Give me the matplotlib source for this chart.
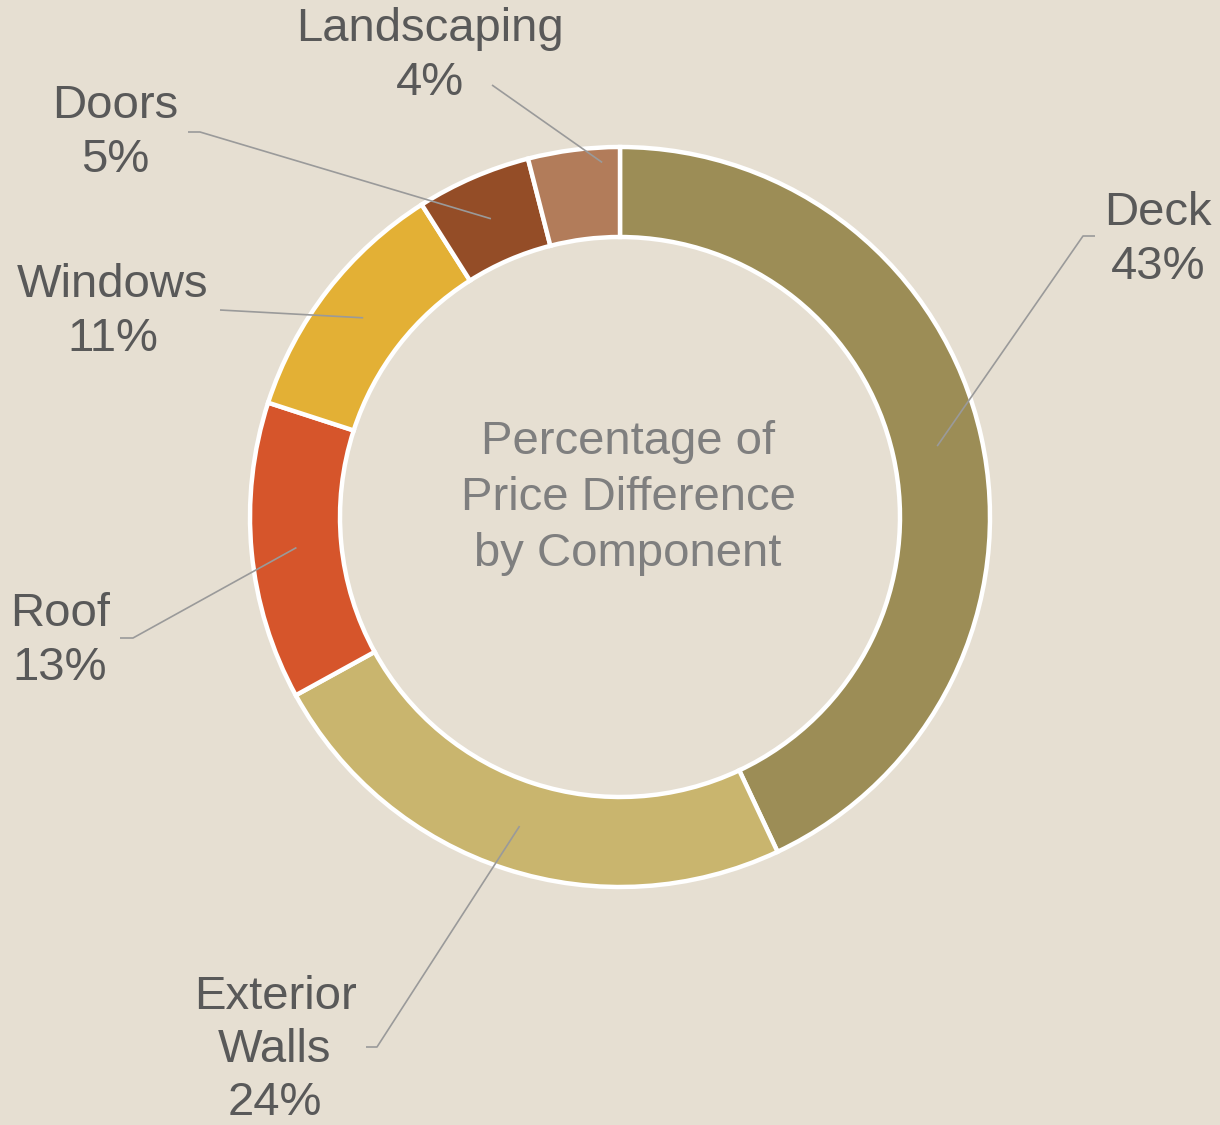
import numpy as np
import matplotlib
matplotlib.use("Agg")
import matplotlib.pyplot as plt

# Component shares of the price difference (percent), clockwise from 12 o'clock
components = ["Deck", "Exterior\nWalls", "Roof", "Windows", "Doors", "Landscaping"]
shares = [43, 24, 13, 11, 5, 4]
colors = ["#9c8d56", "#c9b56e", "#d6552b", "#e3b035", "#944d27", "#b27c5a"]
center_title = "Percentage of\nPrice Difference\nby Component"

# Layout in pixel units (y grows downward)
W, H = 1220, 1125
CX, CY = 620, 517
R_OUT, RING = 370, 90

# label text centre, elbow point, short horizontal end, anchor (fraction along wedge, radius)
label_pos = [(1158, 240), (275, 1050), (60, 641), (113, 312), (115, 133), (430, 56)]
elbows = [(1083, 236), (377, 1047), (133, 638), (220, 310), (200, 132), (492, 85)]
tails = [(1095, 236), (366, 1047), (120, 638), (220, 310), (188, 132), (492, 85)]
anchors = [(0.5, 325), (0.5, 325), (0.5, 325), (0.5, 325), (0.5, 325), (0.8, 355)]

BG = "#e6dfd2"
TXT = "#595959"
LINE = "#9a9a9a"

fig = plt.figure(figsize=(W / 100, H / 100), dpi=100, facecolor=BG)
ax = fig.add_axes([0, 0, 1, 1])
ax.set_facecolor(BG)

# y axis is inverted, so counterclockwise data angles read clockwise on screen
ax.pie(shares, colors=colors, startangle=-90, counterclock=True,
       radius=R_OUT, center=(CX, CY),
       wedgeprops=dict(width=RING, edgecolor="white", linewidth=3.2))
ax.set_xlim(0, W)
ax.set_ylim(H, 0)
ax.set_aspect("equal")
ax.axis("off")

total = float(sum(shares))
start = 0.0
for name, val, lp, el, tl, (frac, rad) in zip(components, shares, label_pos,
                                             elbows, tails, anchors):
    ang = 2 * np.pi * (start + frac * val) / total
    ax_pt = (CX + rad * np.sin(ang), CY - rad * np.cos(ang))
    start += val
    ax.plot([ax_pt[0], el[0], tl[0]], [ax_pt[1], el[1], tl[1]],
            color=LINE, lw=1.2, solid_capstyle="butt", zorder=5)
    ax.text(lp[0], lp[1], f"{name}\n{val}%", ha="center", va="center",
            fontsize=34, family="Liberation Sans", color=TXT,
            linespacing=1.27, zorder=6)

ax.text(628, 498, center_title, ha="center", va="center", fontsize=34,
        family="Liberation Sans", color="#7f7f7f", linespacing=1.36)

fig.savefig("out.png", dpi=100, facecolor=BG)
